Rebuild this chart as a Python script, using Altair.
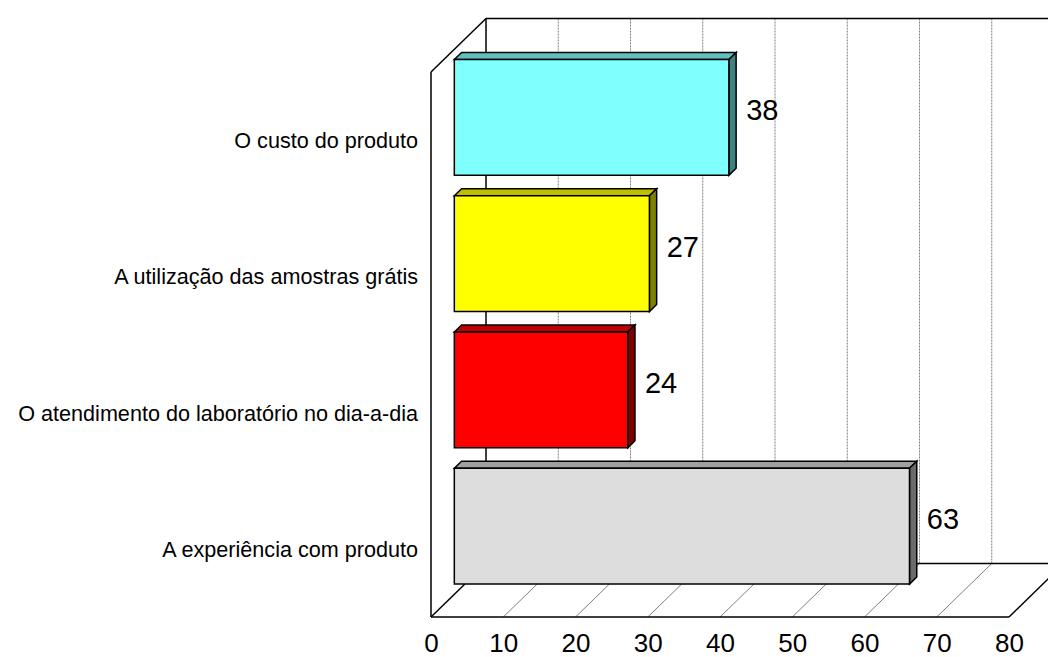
import altair as alt
import pandas as pd

# ---- data (top row first) ----
categories = [
    "O custo do produto",
    "A utilização das amostras grátis ",
    "O atendimento do laboratório no dia-a-dia",
    "A experiência com produto ",
]
values = [38, 27, 24, 63]
front_colors = ["#80FFFF", "#FFFF00", "#FF0000", "#DDDDDD"]
top_colors = ["#60BFBF", "#BFBF00", "#BF0000", "#A0A0A0"]
side_colors = ["#408080", "#808000", "#800000", "#6A6A6A"]
tick_values = [0, 10, 20, 30, 40, 50, 60, 70, 80]

# ---- layout of the pseudo-3D box ----
FONT = "Liberation Sans, Arial, sans-serif"
LEFT, TOP, PLOT_W, PLOT_H, BOTTOM = 431, 10, 617, 607, 40
PX_PER_UNIT = 7.225          # horizontal pixels per value unit
ROW_PX = 136.25              # vertical pixels per category row
DEPTH_DX = 55 / PX_PER_UNIT  # depth of the box, as x units
DEPTH_DY = 53.5 / ROW_PX     # depth of the box, as y (row) units
BAR_F0, BAR_F1 = 0.424, 0.556  # bar front / back depth fractions
BAR_PAD = 0.075

n = len(categories)
x_max = tick_values[-1]
xscale = alt.Scale(domain=[0, PLOT_W / PX_PER_UNIT], nice=False, zero=False)
yscale = alt.Scale(domain=[0, PLOT_H / ROW_PX], nice=False, zero=False)


def shift(x, y, f):
    """Project a point lying at depth fraction f into the front plane."""
    return x + f * DEPTH_DX, y + f * DEPTH_DY


# frame of the box (walls and floor edges)
frame = []
def seg(p, q):
    frame.append({"x": p[0], "y": p[1], "x2": q[0], "y2": q[1]})

seg((0, 0), (0, n))
seg((0, n), shift(0, n, 1))
seg((0, 0), shift(0, 0, 1))
seg(shift(0, 0, 1), shift(0, n, 1))
seg(shift(0, n, 1), shift(x_max, n, 1))
seg(shift(0, 0, 1), shift(x_max, 0, 1))
seg((0, 0), (x_max, 0))
seg((x_max, 0), shift(x_max, 0, 1))
seg(shift(x_max, 0, 1), shift(x_max, n, 1))
frame_df = pd.DataFrame(frame)

wall_grid, floor_grid = [], []
for t in tick_values[1:-1]:
    a, b = shift(t, 0, 1), shift(t, n, 1)
    wall_grid.append({"x": a[0], "y": a[1], "x2": b[0], "y2": b[1]})
    c = shift(t, 0, 1)
    floor_grid.append({"x": t, "y": 0, "x2": c[0], "y2": c[1]})
wall_df = pd.DataFrame(wall_grid)
floor_df = pd.DataFrame(floor_grid)
axis_df = pd.DataFrame({"x": tick_values, "y": [0] * len(tick_values)})

# bar faces
front_rows, top_rows, side_rows, val_rows, cat_rows = [], [], [], [], []
for i, (cat, v) in enumerate(zip(categories, values)):
    r = n - 1 - i
    x0, y0 = shift(0, r + BAR_PAD, BAR_F0)
    x1, y1 = shift(v, r + 1 - BAR_PAD, BAR_F0)
    front_rows.append({"cat": cat, "x": x0, "x2": x1, "y": y0, "y2": y1,
                       "col": front_colors[i]})
    for f in (BAR_F0, BAR_F1):
        lx, ty = shift(0, r + 1 - BAR_PAD, f)
        rx, _ = shift(v, r + 1 - BAR_PAD, f)
        top_rows.append({"cat": cat, "y": ty, "x": lx, "x2": rx,
                         "col": top_colors[i]})
        sx, by = shift(v, r + BAR_PAD, f)
        _, ty2 = shift(v, r + 1 - BAR_PAD, f)
        side_rows.append({"cat": cat, "x": sx, "y": by, "y2": ty2,
                          "col": side_colors[i]})
    lx, ly = shift(v, r + 0.5, BAR_F1)
    val_rows.append({"x": lx, "y": ly, "label": str(v)})
    cat_rows.append({"x": 0, "y": r + 0.5, "label": cat})

front_df = pd.DataFrame(front_rows)
top_df = pd.DataFrame(top_rows)
side_df = pd.DataFrame(side_rows)
val_df = pd.DataFrame(val_rows)
cat_df = pd.DataFrame(cat_rows)

X = lambda f="x": alt.X(f"{f}:Q", scale=xscale, axis=None)
Y = lambda f="y": alt.Y(f"{f}:Q", scale=yscale, axis=None)

# value axis (labels only) carried by an invisible layer
axis_layer = alt.Chart(axis_df).mark_point(opacity=0).encode(
    x=alt.X("x:Q", scale=xscale, axis=alt.Axis(
        values=tick_values, grid=False, domain=False, ticks=False,
        labelFontSize=26, labelPadding=13, labelFont=FONT,
        labelColor="black", labelFlush=False, labelOverlap=False, title=None)),
    y=Y(),
)

wall_lines = alt.Chart(wall_df).mark_rule(
    color="#808080", strokeWidth=1, strokeDash=[2, 1]
).encode(x=X(), x2="x2:Q", y=Y(), y2="y2:Q")

floor_lines = alt.Chart(floor_df).mark_rule(
    color="#808080", strokeWidth=1
).encode(x=X(), x2="x2:Q", y=Y(), y2="y2:Q")

frame_lines = alt.Chart(frame_df).mark_rule(
    color="black", strokeWidth=1.5
).encode(x=X(), x2="x2:Q", y=Y(), y2="y2:Q")

front = alt.Chart(front_df).mark_rect(stroke="black", strokeWidth=1.5).encode(
    x=X(), x2="x2:Q", y=Y(), y2="y2:Q",
    fill=alt.Fill("col:N", scale=None),
)

tops = alt.Chart(top_df).mark_area(
    orient="horizontal", stroke="black", strokeWidth=1.5
).encode(
    y=alt.Y("y:Q", scale=yscale, axis=None, stack=None),
    x=alt.X("x:Q", scale=xscale, axis=None, stack=None), x2="x2:Q",
    fill=alt.Fill("col:N", scale=None), detail="cat:N",
)

sides = alt.Chart(side_df).mark_area(
    orient="vertical", stroke="black", strokeWidth=1.5
).encode(
    x=alt.X("x:Q", scale=xscale, axis=None, stack=None),
    y=alt.Y("y:Q", scale=yscale, axis=None, stack=None), y2="y2:Q",
    fill=alt.Fill("col:N", scale=None), detail="cat:N",
)

value_text = alt.Chart(val_df).mark_text(
    align="left", baseline="middle", dx=10, dy=1, fontSize=29, font=FONT,
    color="black"
).encode(x=X(), y=Y(), text="label:N")

cat_text = alt.Chart(cat_df).mark_text(
    align="right", baseline="middle", dx=-13, dy=2, fontSize=21.6, font=FONT,
    color="black"
).encode(x=X(), y=Y(), text="label:N")

chart = alt.layer(
    axis_layer, wall_lines, floor_lines, frame_lines,
    tops, sides, front, value_text, cat_text,
).resolve_axis(x="independent", y="independent").properties(
    width=PLOT_W, height=PLOT_H,
    padding={"left": LEFT, "top": TOP, "right": 0, "bottom": BOTTOM},
    autosize=alt.AutoSizeParams(type="none"),
    background="white",
).configure_view(stroke=None)

chart.save("out.html", embed_options={"renderer": "svg", "actions": False})
